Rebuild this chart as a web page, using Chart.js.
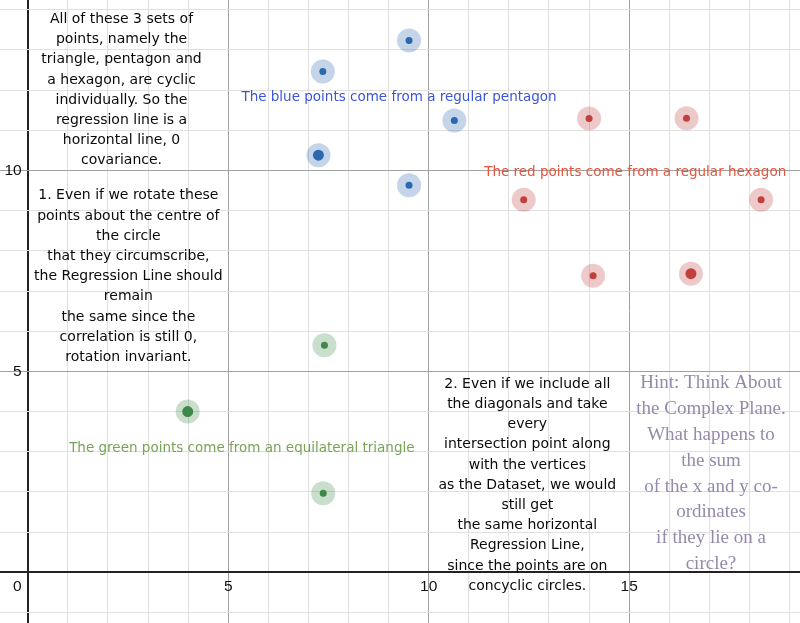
<!DOCTYPE html>
<html>
<head>
<meta charset="utf-8">
<script src="https://cdn.jsdelivr.net/npm/chart.js@4/dist/chart.umd.min.js"></script>
<style>
html,body{margin:0;padding:0;background:#fff;}
#wrap{position:relative;width:800px;height:623px;}
</style>
</head>
<body>
<div id="wrap"><canvas id="c" width="800" height="623"></canvas></div>
<script>
// ---- data ----
const blueX = [9.51, 7.36, 10.64, 7.25, 9.51];
const blueY = [13.23, 12.46, 11.24, 10.38, 9.63];
const redX = [14.00, 16.43, 12.37, 18.29, 14.10, 16.54];
const redY = [11.29, 11.30, 9.27, 9.27, 7.38, 7.43];
const greenX = [7.40, 3.99, 7.37];
const greenY = [5.65, 4.00, 1.97];

const xTickLabels = [5, 10, 15];
const yTickLabels = [5, 10];
const originLabel = "0";

const note1Lines = ["All of these 3 sets of", "points, namely the", "triangle, pentagon and", "a hexagon, are cyclic", "individually. So the", "regression line is a", "horizontal line, 0", "covariance."];
const note2Lines = ["1. Even if we rotate these", "points about the centre of", "the circle", "that they circumscribe,", "the Regression Line should", "remain", "the same since the", "correlation is still 0,", "rotation invariant."];
const note3Lines = ["2. Even if we include all", "the diagonals and take", "every", "intersection point along", "with the vertices", "as the Dataset, we would", "still get", "the same horizontal", "Regression Line,", "since the points are on", "concyclic circles."];
const hintLines = ["Hint: Think About", "the Complex Plane.", "What happens to", "the sum", "of the x and y co-", "ordinates", "if they lie on a", "circle?"];
const blueLabel = "The blue points come from a regular pentagon";
const redLabel = "The red points come from a regular hexagon";
const greenLabel = "The green points come from an equilateral triangle";

// ---- build ----
const pts = (xs, ys) => xs.map((x, i) => ({x: x, y: ys[i]}));

const BLUE = '#2d67b0', RED = '#c0403c', GREEN = '#3d8a48';
const BLUE_H = 'rgba(45,103,176,0.28)', RED_H = 'rgba(192,64,60,0.28)', GREEN_H = 'rgba(61,138,72,0.28)';

function halo(data, c) {
  return {data: data, pointRadius: 12, pointHoverRadius: 12, pointBackgroundColor: c, pointBorderWidth: 0, showLine: false};
}
function dot(data, c, radii) {
  return {data: data, pointRadius: radii, pointHoverRadius: radii, pointBackgroundColor: c, pointBorderWidth: 0, showLine: false};
}

const SANS = '14px "DejaVu Sans", sans-serif';
const LABEL = '13.5px "DejaVu Sans", sans-serif';

const textPlugin = {
  id: 'textNotes',
  afterDraw(chart) {
    const ctx = chart.ctx;
    const xs = chart.scales.x, ys = chart.scales.y;
    ctx.save();
    ctx.textAlign = 'center';
    ctx.textBaseline = 'middle';
    function block(lines, cx, cy, lh, font, color) {
      ctx.font = font; ctx.fillStyle = color;
      const px = xs.getPixelForValue(cx), py = ys.getPixelForValue(cy);
      lines.forEach((l, i) => ctx.fillText(l, px, py + i * lh));
    }
    block(note1Lines, 2.34, 13.76, 20.2, SANS, '#0a0a0a');
    block(note2Lines, 2.51, 9.37, 20.2, SANS, '#0a0a0a');
    block(note3Lines, 12.46, 4.68, 20.2, SANS, '#0a0a0a');
    block(hintLines, 17.04, 4.70, 25.8, '19px "Liberation Serif", serif', '#968aab');
    block([blueLabel], 9.26, 11.81, 0, LABEL, '#3b55d8');
    block([redLabel], 15.15, 9.94, 0, LABEL, '#e5533a');
    block([greenLabel], 5.34, 3.08, 0, LABEL, '#78a455');

    // tick labels
    ctx.font = '15.5px "Liberation Sans", Arial, sans-serif';
    ctx.fillStyle = '#111';
    const y0 = ys.getPixelForValue(0), x0 = xs.getPixelForValue(0);
    xTickLabels.forEach(v => ctx.fillText(String(v), xs.getPixelForValue(v), y0 + 14));
    ctx.textAlign = 'right';
    ctx.fillText(originLabel, x0 - 6, y0 + 14);
    yTickLabels.forEach(v => ctx.fillText(String(v), x0 - 6, ys.getPixelForValue(v)));
    ctx.restore();
  }
};

function gridColor(ctx) {
  const v = Math.round(ctx.tick.value * 1000) / 1000;
  if (v === 0) return '#222';
  if (v % 5 === 0) return '#a0a0a0';
  return '#e0e0e0';
}
function gridWidth(ctx) {
  const v = Math.round(ctx.tick.value * 1000) / 1000;
  return v === 0 ? 2 : 1;
}

new Chart(document.getElementById('c'), {
  type: 'scatter',
  data: {
    datasets: [
      halo(pts(blueX, blueY), BLUE_H),
      halo(pts(redX, redY), RED_H),
      halo(pts(greenX, greenY), GREEN_H),
      dot(pts(blueX, blueY), BLUE, [3.5, 3.5, 3.5, 5.5, 3.5]),
      dot(pts(redX, redY), RED, [3.5, 3.5, 3.5, 3.5, 3.5, 5.5]),
      dot(pts(greenX, greenY), GREEN, [3.5, 5.5, 3.5])
    ]
  },
  options: {
    responsive: false,
    animation: false,
    events: [],
    layout: {padding: 0, autoPadding: false},
    plugins: {legend: {display: false}, tooltip: {enabled: false}},
    scales: {
      x: {
        type: 'linear', min: -0.691, max: 19.26,
        ticks: {stepSize: 1, display: false, includeBounds: false, maxTicksLimit: 100},
        grid: {color: gridColor, lineWidth: gridWidth, drawTicks: false},
        border: {display: false}
      },
      y: {
        type: 'linear', min: -1.26, max: 14.24,
        ticks: {stepSize: 1, display: false, includeBounds: false, maxTicksLimit: 100},
        grid: {color: gridColor, lineWidth: gridWidth, drawTicks: false},
        border: {display: false}
      }
    }
  },
  plugins: [textPlugin]
});
</script>
</body>
</html>
